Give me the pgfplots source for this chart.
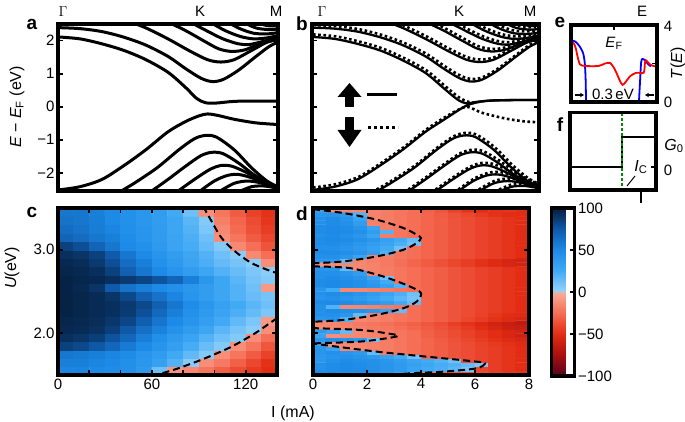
\documentclass[border=0pt]{standalone}
\usepackage{pgfplots}
\pgfplotsset{compat=1.18}
\usepackage{pgfplotstable}
\usepackage{fontspec}
\setmainfont{Liberation Sans}
\usetikzlibrary{arrows.meta}
\newcommand\tl{\fontsize{15}{17}\selectfont}
\newcommand\al{\fontsize{16}{18}\selectfont}
\newcommand\pl{\fontsize{19}{21}\selectfont\bfseries}
\pgfplotsset{
  colormap={heat}{rgb255(0pt)=(85,3,30); rgb255(25pt)=(170,15,15); rgb255(50pt)=(226,45,20); rgb255(75pt)=(245,110,85); rgb255(99pt)=(250,170,150); rgb255(101pt)=(150,210,250); rgb255(125pt)=(65,170,245); rgb255(150pt)=(28,138,230); rgb255(175pt)=(15,90,170); rgb255(200pt)=(5,28,58)},
  panel/.style={scale only axis, axis line style={line width=3.5pt}, tick style={black, line width=1.8pt}, major tick length=5pt, tick align=inside, axis on top, every tick label/.append style={font=\tl}},
  band/.style={black, line width=3pt, smooth, tension=0.5, no markers},
  bsol/.style={black, line width=2.3pt, smooth, tension=0.5, no markers},
  bdot/.style={black, line width=2.6pt, dash pattern=on 2.6pt off 2.6pt, smooth, tension=0.5, no markers, yshift=2.5pt, xshift=1pt},
}
% conduction bands
\pgfplotstableread[row sep=\\]{x y\\0 2.11\\0.1 2.05\\0.2 1.9\\0.3 1.7\\0.4 1.42\\0.5 1.04\\0.58 0.58\\0.63 0.25\\0.67 0.12\\0.72 0.11\\0.8 0.16\\0.9 0.17\\1 0.17\\}\cA
\pgfplotstableread[row sep=\\]{x y\\0 2.39\\0.1 2.36\\0.2 2.27\\0.3 2.1\\0.4 1.86\\0.5 1.52\\0.58 1.15\\0.65 0.86\\0.70 0.76\\0.75 0.82\\0.82 1.1\\0.9 1.52\\0.96 1.82\\1 1.95\\}\cB
\pgfplotstableread[row sep=\\]{x y\\0.33 2.56\\0.4 2.38\\0.5 2.05\\0.6 1.68\\0.68 1.42\\0.74 1.35\\0.8 1.42\\0.88 1.7\\0.95 1.95\\1 2.02\\}\cC
\pgfplotstableread[row sep=\\]{x y\\0.5 2.56\\0.58 2.3\\0.66 2.0\\0.73 1.75\\0.79 1.67\\0.85 1.72\\0.92 1.9\\1 2.05\\}\cD
\pgfplotstableread[row sep=\\]{x y\\0.6 2.56\\0.68 2.28\\0.75 2.05\\0.82 1.9\\0.87 1.88\\0.93 1.97\\1 2.1\\}\cE
\pgfplotstableread[row sep=\\]{x y\\0.69 2.56\\0.76 2.3\\0.83 2.12\\0.89 2.05\\0.95 2.08\\1 2.15\\}\cF
\pgfplotstableread[row sep=\\]{x y\\0.77 2.56\\0.83 2.35\\0.89 2.22\\0.95 2.2\\1 2.24\\}\cG
\pgfplotstableread[row sep=\\]{x y\\0.84 2.56\\0.9 2.38\\0.96 2.33\\1 2.35\\}\cH
\pgfplotstableread[row sep=\\]{x y\\0.9 2.56\\0.95 2.45\\1 2.45\\}\cI
% valence bands
\pgfplotstableread[row sep=\\]{x y\\0 -2.52\\0.1 -2.42\\0.2 -2.2\\0.3 -1.78\\0.4 -1.3\\0.5 -0.76\\0.58 -0.45\\0.64 -0.28\\0.68 -0.22\\0.73 -0.27\\0.8 -0.38\\0.9 -0.49\\1 -0.54\\}\vA
\pgfplotstableread[row sep=\\]{x y\\0.28 -2.58\\0.35 -2.3\\0.45 -1.85\\0.55 -1.3\\0.62 -0.97\\0.67 -0.87\\0.72 -0.92\\0.8 -1.3\\0.88 -1.85\\0.95 -2.25\\1 -2.42\\}\vB
\pgfplotstableread[row sep=\\]{x y\\0.42 -2.58\\0.5 -2.2\\0.58 -1.8\\0.65 -1.48\\0.7 -1.38\\0.75 -1.42\\0.82 -1.7\\0.9 -2.1\\1 -2.45\\}\vC
\pgfplotstableread[row sep=\\]{x y\\0.54 -2.58\\0.62 -2.2\\0.69 -1.9\\0.74 -1.78\\0.79 -1.8\\0.86 -2.0\\0.93 -2.25\\1 -2.45\\}\vD
\pgfplotstableread[row sep=\\]{x y\\0.64 -2.58\\0.71 -2.25\\0.77 -2.08\\0.82 -2.05\\0.88 -2.15\\0.95 -2.35\\1 -2.45\\}\vE
\pgfplotstableread[row sep=\\]{x y\\0.73 -2.58\\0.8 -2.32\\0.86 -2.25\\0.92 -2.3\\1 -2.45\\}\vF
\pgfplotstableread[row sep=\\]{x y\\0.82 -2.58\\0.88 -2.42\\0.94 -2.4\\1 -2.47\\}\vG
% panel b, bands near K
\pgfplotstableread[row sep=\\]{x y\\0 2.11\\0.1 2.05\\0.2 1.9\\0.3 1.7\\0.4 1.4\\0.5 1.02\\0.58 0.56\\0.64 0.22\\0.68 0.1\\0.73 0.15\\0.8 0.19\\0.9 0.2\\1 0.2\\}\bcA
\pgfplotstableread[row sep=\\]{x y\\0 -2.52\\0.1 -2.42\\0.2 -2.2\\0.3 -1.78\\0.4 -1.3\\0.5 -0.76\\0.58 -0.4\\0.64 -0.13\\0.68 0.03\\0.72 0.12\\0.78 0.18\\0.9 0.2\\1 0.2\\}\bvA
\pgfplotstableread[row sep=\\]{x y\\0 2.11\\0.1 2.05\\0.2 1.9\\0.3 1.7\\0.4 1.4\\0.5 1.02\\0.58 0.56\\0.64 0.22\\0.68 0.08\\0.71 0.04\\}\dcA
\pgfplotstableread[row sep=\\]{x y\\0 -2.52\\0.1 -2.42\\0.2 -2.2\\0.3 -1.78\\0.4 -1.3\\0.5 -0.76\\0.58 -0.4\\0.64 -0.17\\0.68 -0.08\\0.74 -0.25\\0.8 -0.36\\0.86 -0.45\\0.93 -0.52\\1 -0.55\\}\dvA
% panel e
\pgfplotstableread[row sep=\\]{x y\\-0.02 3.23\\0.05 3.14\\0.10 2.89\\0.14 2.55\\0.16 2.04\\0.17 1.18\\0.175 0\\}\eBa
\pgfplotstableread[row sep=\\]{x y\\0.79 0\\0.8 0.84\\0.815 2.04\\0.83 2.24\\0.86 2.17\\0.9 1.95\\0.93 1.85\\}\eBb
\pgfplotstableread[row sep=\\]{x y\\-0.02 3.14\\0.03 3.06\\0.055 2.8\\0.08 2.29\\0.105 1.95\\0.16 1.87\\0.32 1.87\\0.395 2.0\\0.455 2.03\\0.51 1.69\\0.57 1.09\\0.6 0.89\\0.63 1.01\\0.69 1.35\\0.76 1.52\\0.845 1.52\\0.86 2.04\\0.87 2.17\\0.92 1.95\\0.96 1.87\\1 1.83\\}\eR
\begin{document}
\begin{tikzpicture}
\useasboundingbox (0,0) rectangle (685pt,-422pt);
% ---------------- panel a
\begin{axis}[panel, at={(58pt,-24pt)}, anchor=north west, width=220pt, height=167pt,
  xmin=0, xmax=1, ymin=-2.55, ymax=2.5, xtick=\empty,
  ytick={-2,-1,0,1,2}, yticklabels={−2,−1,0,1,2}]
\addplot[band] table {\cA};
\addplot[band] table {\cB};
\addplot[band] table {\cC};
\addplot[band] table {\cD};
\addplot[band] table {\cE};
\addplot[band] table {\cF};
\addplot[band] table {\cG};
\addplot[band] table {\cH};
\addplot[band] table {\cI};
\addplot[band] table {\vA};
\addplot[band] table {\vB};
\addplot[band] table {\vC};
\addplot[band] table {\vD};
\addplot[band] table {\vE};
\addplot[band] table {\vF};
\addplot[band] table {\vG};
\end{axis}
% ---------------- panel b
\begin{axis}[panel, at={(312pt,-24pt)}, anchor=north west, width=227pt, height=167pt,
  xmin=0, xmax=1, ymin=-2.55, ymax=2.5, xtick=\empty,
  ytick={-2,-1,0,1,2}, yticklabels={}]
\addplot[bdot] table {\dcA};
\addplot[bdot] table {\cB};
\addplot[bdot] table {\cC};
\addplot[bdot] table {\cD};
\addplot[bdot] table {\cE};
\addplot[bdot] table {\cF};
\addplot[bdot] table {\cG};
\addplot[bdot] table {\cH};
\addplot[bdot] table {\cI};
\addplot[bdot] table {\dvA};
\addplot[bdot] table {\vB};
\addplot[bdot] table {\vC};
\addplot[bdot] table {\vD};
\addplot[bdot] table {\vE};
\addplot[bdot] table {\vF};
\addplot[bdot] table {\vG};
\addplot[bsol] table {\bcA};
\addplot[bsol] table {\cB};
\addplot[bsol] table {\cC};
\addplot[bsol] table {\cD};
\addplot[bsol] table {\cE};
\addplot[bsol] table {\cF};
\addplot[bsol] table {\cG};
\addplot[bsol] table {\cH};
\addplot[bsol] table {\cI};
\addplot[bsol] table {\bvA};
\addplot[bsol] table {\vB};
\addplot[bsol] table {\vC};
\addplot[bsol] table {\vD};
\addplot[bsol] table {\vE};
\addplot[bsol] table {\vF};
\addplot[bsol] table {\vG};
\end{axis}
% ---------------- panel e
\begin{axis}[panel, at={(571pt,-25pt)}, anchor=north west, width=86pt, height=77pt,
  xmin=0, xmax=1, ymin=0, ymax=4, xtick={0.5}, xtick pos=right, xticklabels={},
  ytick={2}, ytick pos=right, yticklabels={}]
\addplot[blue, line width=1.8pt, smooth, tension=0.4] table {\eBa};
\addplot[blue, line width=1.8pt, smooth, tension=0.4] table {\eBb};
\addplot[red, line width=1.8pt, smooth, tension=0.4] table {\eR};
\end{axis}
% ---------------- panel f
\begin{axis}[panel, at={(570pt,-112.5pt)}, anchor=north west, width=86pt, height=77.5pt,
  xmin=0, xmax=1, ymin=-0.77, ymax=1.83, xtick=\empty,
  ytick={0}, ytick pos=right, yticklabels={}]
\addplot[black, line width=2.2pt] coordinates {(0,0) (0.605,0) (0.605,1) (1,1)};
\addplot[green!55!black, line width=2pt, dash pattern=on 3pt off 2pt] coordinates {(0.605,-0.8) (0.605,1.9)};
\end{axis}
% ---------------- panel c
\begin{axis}[panel, at={(58pt,-208pt)}, anchor=north west, width=219pt, height=167pt,
  xmin=0, xmax=140, ymin=1.5, ymax=3.5, colormap name=heat,
  point meta min=-100, point meta max=100,
  xtick={0,20,40,60,80,100,120}, xticklabels={0,,,60,,,120},
  ytick={2,3}, yticklabels={2.0,3.0}]
\addplot[matrix plot*, mesh/cols=14, point meta=explicit] coordinates {
(5,1.55)[52] (15,1.55)[52] (25,1.55)[50] (35,1.55)[48] (45,1.55)[45] (55,1.55)[38] (65,1.55)[12] (75,1.55)[-10] (85,1.55)[-15] (95,1.55)[-22] (105,1.55)[-30] (115,1.55)[-38] (125,1.55)[-45] (135,1.55)[-50]
(5,1.65)[55] (15,1.65)[55] (25,1.65)[52] (35,1.65)[50] (45,1.65)[46] (55,1.65)[40] (65,1.65)[32] (75,1.65)[20] (85,1.65)[5] (95,1.65)[-12] (105,1.65)[-20] (115,1.65)[-30] (125,1.65)[-40] (135,1.65)[-48]
(5,1.75)[60] (15,1.75)[58] (25,1.75)[55] (35,1.75)[52] (45,1.75)[48] (55,1.75)[42] (65,1.75)[36] (75,1.75)[26] (85,1.75)[16] (95,1.75)[6] (105,1.75)[-12] (115,1.75)[-22] (125,1.75)[-32] (135,1.75)[-42]
(5,1.85)[85] (15,1.85)[82] (25,1.85)[76] (35,1.85)[68] (45,1.85)[58] (55,1.85)[50] (65,1.85)[42] (75,1.85)[34] (85,1.85)[24] (95,1.85)[14] (105,1.85)[6] (115,1.85)[-12] (125,1.85)[-22] (135,1.85)[-34]
(5,1.95)[92] (15,1.95)[90] (25,1.95)[86] (35,1.95)[78] (45,1.95)[68] (55,1.95)[56] (65,1.95)[46] (75,1.95)[38] (85,1.95)[30] (95,1.95)[20] (105,1.95)[12] (115,1.95)[6] (125,1.95)[-12] (135,1.95)[-25]
(5,2.05)[95] (15,2.05)[94] (25,2.05)[91] (35,2.05)[86] (45,2.05)[76] (55,2.05)[64] (65,2.05)[54] (75,2.05)[44] (85,2.05)[36] (95,2.05)[28] (105,2.05)[18] (115,2.05)[10] (125,2.05)[4] (135,2.05)[-12]
(5,2.15)[96] (15,2.15)[95] (25,2.15)[93] (35,2.15)[89] (45,2.15)[83] (55,2.15)[73] (65,2.15)[61] (75,2.15)[50] (85,2.15)[42] (95,2.15)[34] (105,2.15)[25] (115,2.15)[16] (125,2.15)[8] (135,2.15)[-8]
(5,2.25)[97] (15,2.25)[96] (25,2.25)[94] (35,2.25)[92] (45,2.25)[87] (55,2.25)[79] (65,2.25)[67] (75,2.25)[55] (85,2.25)[45] (95,2.25)[38] (105,2.25)[30] (115,2.25)[22] (125,2.25)[15] (135,2.25)[8]
(5,2.35)[97] (15,2.35)[96] (25,2.35)[94] (35,2.35)[92] (45,2.35)[88] (55,2.35)[82] (65,2.35)[72] (75,2.35)[60] (85,2.35)[48] (95,2.35)[40] (105,2.35)[32] (115,2.35)[25] (125,2.35)[18] (135,2.35)[12]
(5,2.45)[97] (15,2.45)[96] (25,2.45)[94] (35,2.45)[90] (45,2.45)[82] (55,2.45)[72] (65,2.45)[62] (75,2.45)[52] (85,2.45)[42] (95,2.45)[35] (105,2.45)[28] (115,2.45)[20] (125,2.45)[14] (135,2.45)[10]
(5,2.55)[97] (15,2.55)[95] (25,2.55)[90] (35,2.55)[75] (45,2.55)[62] (55,2.55)[55] (65,2.55)[50] (75,2.55)[45] (85,2.55)[40] (95,2.55)[35] (105,2.55)[28] (115,2.55)[20] (125,2.55)[12] (135,2.55)[-8]
(5,2.65)[97] (15,2.65)[96] (25,2.65)[95] (35,2.65)[92] (45,2.65)[88] (55,2.65)[84] (65,2.65)[78] (75,2.65)[70] (85,2.65)[55] (95,2.65)[40] (105,2.65)[28] (115,2.65)[18] (125,2.65)[10] (135,2.65)[6]
(5,2.75)[96] (15,2.75)[95] (25,2.75)[92] (35,2.75)[85] (45,2.75)[72] (55,2.75)[60] (65,2.75)[50] (75,2.75)[42] (85,2.75)[35] (95,2.75)[28] (105,2.75)[20] (115,2.75)[14] (125,2.75)[8] (135,2.75)[4]
(5,2.85)[95] (15,2.85)[93] (25,2.85)[88] (35,2.85)[80] (45,2.85)[65] (55,2.85)[55] (65,2.85)[45] (75,2.85)[38] (85,2.85)[30] (95,2.85)[22] (105,2.85)[15] (115,2.85)[10] (125,2.85)[4] (135,2.85)[-12]
(5,2.95)[92] (15,2.95)[90] (25,2.95)[85] (35,2.95)[75] (45,2.95)[60] (55,2.95)[50] (65,2.95)[42] (75,2.95)[35] (85,2.95)[28] (95,2.95)[20] (105,2.95)[12] (115,2.95)[5] (125,2.95)[-14] (135,2.95)[-25]
(5,3.05)[85] (15,3.05)[80] (25,3.05)[70] (35,3.05)[60] (45,3.05)[50] (55,3.05)[45] (65,3.05)[38] (75,3.05)[30] (85,3.05)[24] (95,3.05)[15] (105,3.05)[6] (115,3.05)[-14] (125,3.05)[-25] (135,3.05)[-35]
(5,3.15)[70] (15,3.15)[66] (25,3.15)[60] (35,3.15)[55] (45,3.15)[48] (55,3.15)[42] (65,3.15)[36] (75,3.15)[30] (85,3.15)[22] (95,3.15)[12] (105,3.15)[-12] (115,3.15)[-22] (125,3.15)[-32] (135,3.15)[-40]
(5,3.25)[65] (15,3.25)[62] (25,3.25)[57] (35,3.25)[52] (45,3.25)[46] (55,3.25)[42] (65,3.25)[36] (75,3.25)[28] (85,3.25)[20] (95,3.25)[8] (105,3.25)[-15] (115,3.25)[-26] (125,3.25)[-36] (135,3.25)[-44]
(5,3.35)[62] (15,3.35)[60] (25,3.35)[56] (35,3.35)[50] (45,3.35)[45] (55,3.35)[40] (65,3.35)[35] (75,3.35)[28] (85,3.35)[18] (95,3.35)[6] (105,3.35)[-18] (115,3.35)[-28] (125,3.35)[-38] (135,3.35)[-46]
(5,3.45)[60] (15,3.45)[60] (25,3.45)[55] (35,3.45)[50] (45,3.45)[45] (55,3.45)[40] (65,3.45)[35] (75,3.45)[25] (85,3.45)[12] (95,3.45)[-12] (105,3.45)[-22] (115,3.45)[-32] (125,3.45)[-42] (135,3.45)[-48]
};
\addplot[black, line width=2pt, dash pattern=on 7pt off 4pt, smooth] coordinates {(93,3.52) (94,3.48) (98.2,3.34) (104.6,3.14) (113.2,2.98) (123.8,2.84) (136.6,2.74) (141,2.72)};
\addplot[black, line width=2pt, dash pattern=on 7pt off 4pt, smooth] coordinates {(60,1.49) (66.3,1.52) (76.9,1.58) (94,1.70) (111,1.84) (126,2.0) (137.6,2.15) (141,2.19)};
\end{axis}
% ---------------- panel d
\begin{axis}[panel, at={(313pt,-208pt)}, anchor=north west, width=216pt, height=167pt,
  xmin=0, xmax=8, ymin=1.5, ymax=3.5, colormap name=heat,
  point meta min=-100, point meta max=100,
  xtick={0,2,4,6,8}, xticklabels={0,2,4,6,8},
  ytick={2,3}, yticklabels={},
  colorbar,
  colorbar style={at={(parent axis.north east)}, anchor=north west, xshift=14pt, width=23pt, height=168pt, scale only axis,
    ytick={-100,-50,0,50,100}, yticklabels={−100,−50,0,50,100}, ytick pos=right,
    axis line style={line width=3.5pt}, tick style={black, line width=1.8pt}, major tick length=5pt, tick align=inside,
    yticklabel style={font=\tl}}]
\addplot[matrix plot*, mesh/cols=16, point meta=explicit] coordinates {
(0.25,1.525)[48] (0.75,1.525)[50] (1.25,1.525)[48] (1.75,1.525)[46] (2.25,1.525)[44] (2.75,1.525)[40] (3.25,1.525)[30] (3.75,1.525)[15] (4.25,1.525)[-25] (4.75,1.525)[-28] (5.25,1.525)[-32] (5.75,1.525)[-35] (6.25,1.525)[-38] (6.75,1.525)[-41] (7.25,1.525)[-44] (7.75,1.525)[-47]
(0.25,1.575)[45] (0.75,1.575)[48] (1.25,1.575)[50] (1.75,1.575)[48] (2.25,1.575)[46] (2.75,1.575)[42] (3.25,1.575)[38] (3.75,1.575)[30] (4.25,1.575)[25] (4.75,1.575)[22] (5.25,1.575)[18] (5.75,1.575)[10] (6.25,1.575)[-40] (6.75,1.575)[-44] (7.25,1.575)[-47] (7.75,1.575)[-50]
(0.25,1.625)[45] (0.75,1.625)[48] (1.25,1.625)[50] (1.75,1.625)[48] (2.25,1.625)[45] (2.75,1.625)[42] (3.25,1.625)[38] (3.75,1.625)[32] (4.25,1.625)[28] (4.75,1.625)[24] (5.25,1.625)[20] (5.75,1.625)[15] (6.25,1.625)[8] (6.75,1.625)[-44] (7.25,1.625)[-47] (7.75,1.625)[-50]
(0.25,1.675)[40] (0.75,1.675)[45] (1.25,1.675)[48] (1.75,1.675)[46] (2.25,1.675)[44] (2.75,1.675)[40] (3.25,1.675)[35] (3.75,1.675)[30] (4.25,1.675)[25] (4.75,1.675)[20] (5.25,1.675)[12] (5.75,1.675)[-38] (6.25,1.675)[-41] (6.75,1.675)[-44] (7.25,1.675)[-47] (7.75,1.675)[-50]
(0.25,1.725)[40] (0.75,1.725)[42] (1.25,1.725)[45] (1.75,1.725)[42] (2.25,1.725)[38] (2.75,1.725)[32] (3.25,1.725)[25] (3.75,1.725)[12] (4.25,1.725)[-28] (4.75,1.725)[-31] (5.25,1.725)[-35] (5.75,1.725)[-38] (6.25,1.725)[-41] (6.75,1.725)[-44] (7.25,1.725)[-47] (7.75,1.725)[-50]
(0.25,1.775)[42] (0.75,1.775)[45] (1.25,1.775)[42] (1.75,1.775)[38] (2.25,1.775)[15] (2.75,1.775)[-19] (3.25,1.775)[-22] (3.75,1.775)[-25] (4.25,1.775)[-28] (4.75,1.775)[-31] (5.25,1.775)[-35] (5.75,1.775)[-38] (6.25,1.775)[-41] (6.75,1.775)[-44] (7.25,1.775)[-47] (7.75,1.775)[-50]
(0.25,1.825)[40] (0.75,1.825)[30] (1.25,1.825)[-14] (1.75,1.825)[-15] (2.25,1.825)[-17] (2.75,1.825)[-19] (3.25,1.825)[-22] (3.75,1.825)[-25] (4.25,1.825)[-28] (4.75,1.825)[-31] (5.25,1.825)[-35] (5.75,1.825)[-38] (6.25,1.825)[-41] (6.75,1.825)[-44] (7.25,1.825)[-47] (7.75,1.825)[-50]
(0.25,1.875)[25] (0.75,1.875)[-12] (1.25,1.875)[-14] (1.75,1.875)[-15] (2.25,1.875)[-17] (2.75,1.875)[-19] (3.25,1.875)[-22] (3.75,1.875)[-25] (4.25,1.875)[-28] (4.75,1.875)[-31] (5.25,1.875)[-35] (5.75,1.875)[-38] (6.25,1.875)[-42] (6.75,1.875)[-45] (7.25,1.875)[-48] (7.75,1.875)[-52]
(0.25,1.925)[40] (0.75,1.925)[45] (1.25,1.925)[42] (1.75,1.925)[38] (2.25,1.925)[12] (2.75,1.925)[-19] (3.25,1.925)[-22] (3.75,1.925)[-25] (4.25,1.925)[-28] (4.75,1.925)[-32] (5.25,1.925)[-36] (5.75,1.925)[-40] (6.25,1.925)[-44] (6.75,1.925)[-48] (7.25,1.925)[-52] (7.75,1.925)[-55]
(0.25,1.975)[30] (0.75,1.975)[-12] (1.25,1.975)[-14] (1.75,1.975)[-15] (2.25,1.975)[-17] (2.75,1.975)[-19] (3.25,1.975)[-22] (3.75,1.975)[-25] (4.25,1.975)[-30] (4.75,1.975)[-34] (5.25,1.975)[-38] (5.75,1.975)[-42] (6.25,1.975)[-46] (6.75,1.975)[-50] (7.25,1.975)[-55] (7.75,1.975)[-60]
(0.25,2.025)[38] (0.75,2.025)[30] (1.25,2.025)[15] (1.75,2.025)[-15] (2.25,2.025)[-17] (2.75,2.025)[-19] (3.25,2.025)[-22] (3.75,2.025)[-25] (4.25,2.025)[-30] (4.75,2.025)[-34] (5.25,2.025)[-38] (5.75,2.025)[-42] (6.25,2.025)[-46] (6.75,2.025)[-50] (7.25,2.025)[-55] (7.75,2.025)[-58]
(0.25,2.075)[-14] (0.75,2.075)[-15] (1.25,2.075)[-17] (1.75,2.075)[-18] (2.25,2.075)[-20] (2.75,2.075)[-22] (3.25,2.075)[-25] (3.75,2.075)[-28] (4.25,2.075)[-32] (4.75,2.075)[-36] (5.25,2.075)[-40] (5.75,2.075)[-45] (6.25,2.075)[-50] (6.75,2.075)[-55] (7.25,2.075)[-60] (7.75,2.075)[-62]
(0.25,2.125)[-15] (0.75,2.125)[-16] (1.25,2.125)[-18] (1.75,2.125)[-20] (2.25,2.125)[-22] (2.75,2.125)[-24] (3.25,2.125)[-27] (3.75,2.125)[-30] (4.25,2.125)[-34] (4.75,2.125)[-38] (5.25,2.125)[-43] (5.75,2.125)[-48] (6.25,2.125)[-53] (6.75,2.125)[-58] (7.25,2.125)[-62] (7.75,2.125)[-65]
(0.25,2.175)[40] (0.75,2.175)[42] (1.25,2.175)[20] (1.75,2.175)[-15] (2.25,2.175)[-17] (2.75,2.175)[-19] (3.25,2.175)[-22] (3.75,2.175)[-25] (4.25,2.175)[-28] (4.75,2.175)[-31] (5.25,2.175)[-35] (5.75,2.175)[-40] (6.25,2.175)[-44] (6.75,2.175)[-48] (7.25,2.175)[-52] (7.75,2.175)[-55]
(0.25,2.225)[45] (0.75,2.225)[45] (1.25,2.225)[40] (1.75,2.225)[15] (2.25,2.225)[-17] (2.75,2.225)[-19] (3.25,2.225)[-22] (3.75,2.225)[-25] (4.25,2.225)[-28] (4.75,2.225)[-31] (5.25,2.225)[-35] (5.75,2.225)[-38] (6.25,2.225)[-42] (6.75,2.225)[-46] (7.25,2.225)[-50] (7.75,2.225)[-52]
(0.25,2.275)[45] (0.75,2.275)[48] (1.25,2.275)[46] (1.75,2.275)[44] (2.25,2.275)[40] (2.75,2.275)[30] (3.25,2.275)[15] (3.75,2.275)[-25] (4.25,2.275)[-28] (4.75,2.275)[-31] (5.25,2.275)[-35] (5.75,2.275)[-38] (6.25,2.275)[-41] (6.75,2.275)[-44] (7.25,2.275)[-47] (7.75,2.275)[-50]
(0.25,2.325)[45] (0.75,2.325)[20] (1.25,2.325)[-14] (1.75,2.325)[-15] (2.25,2.325)[-17] (2.75,2.325)[-19] (3.25,2.325)[-22] (3.75,2.325)[-25] (4.25,2.325)[-28] (4.75,2.325)[-31] (5.25,2.325)[-35] (5.75,2.325)[-38] (6.25,2.325)[-41] (6.75,2.325)[-44] (7.25,2.325)[-47] (7.75,2.325)[-50]
(0.25,2.375)[48] (0.75,2.375)[50] (1.25,2.375)[48] (1.75,2.375)[45] (2.25,2.375)[40] (2.75,2.375)[35] (3.25,2.375)[25] (3.75,2.375)[15] (4.25,2.375)[-28] (4.75,2.375)[-31] (5.25,2.375)[-35] (5.75,2.375)[-38] (6.25,2.375)[-41] (6.75,2.375)[-44] (7.25,2.375)[-47] (7.75,2.375)[-50]
(0.25,2.425)[42] (0.75,2.425)[45] (1.25,2.425)[42] (1.75,2.425)[38] (2.25,2.425)[32] (2.75,2.425)[25] (3.25,2.425)[18] (3.75,2.425)[10] (4.25,2.425)[-28] (4.75,2.425)[-31] (5.25,2.425)[-35] (5.75,2.425)[-38] (6.25,2.425)[-41] (6.75,2.425)[-44] (7.25,2.425)[-47] (7.75,2.425)[-50]
(0.25,2.475)[45] (0.75,2.475)[48] (1.25,2.475)[46] (1.75,2.475)[42] (2.25,2.475)[36] (2.75,2.475)[30] (3.25,2.475)[22] (3.75,2.475)[12] (4.25,2.475)[-28] (4.75,2.475)[-31] (5.25,2.475)[-35] (5.75,2.475)[-38] (6.25,2.475)[-41] (6.75,2.475)[-44] (7.25,2.475)[-47] (7.75,2.475)[-50]
(0.25,2.525)[40] (0.75,2.525)[25] (1.25,2.525)[-14] (1.75,2.525)[-15] (2.25,2.525)[-17] (2.75,2.525)[-19] (3.25,2.525)[-22] (3.75,2.525)[-25] (4.25,2.525)[-28] (4.75,2.525)[-31] (5.25,2.525)[-35] (5.75,2.525)[-38] (6.25,2.525)[-41] (6.75,2.525)[-44] (7.25,2.525)[-47] (7.75,2.525)[-50]
(0.25,2.575)[48] (0.75,2.575)[50] (1.25,2.575)[48] (1.75,2.575)[45] (2.25,2.575)[40] (2.75,2.575)[32] (3.25,2.575)[20] (3.75,2.575)[-25] (4.25,2.575)[-28] (4.75,2.575)[-31] (5.25,2.575)[-35] (5.75,2.575)[-38] (6.25,2.575)[-41] (6.75,2.575)[-44] (7.25,2.575)[-47] (7.75,2.575)[-50]
(0.25,2.625)[48] (0.75,2.625)[50] (1.25,2.625)[48] (1.75,2.625)[45] (2.25,2.625)[38] (2.75,2.625)[25] (3.25,2.625)[-22] (3.75,2.625)[-25] (4.25,2.625)[-28] (4.75,2.625)[-31] (5.25,2.625)[-35] (5.75,2.625)[-38] (6.25,2.625)[-41] (6.75,2.625)[-44] (7.25,2.625)[-47] (7.75,2.625)[-50]
(0.25,2.675)[45] (0.75,2.675)[48] (1.25,2.675)[46] (1.75,2.675)[42] (2.25,2.675)[30] (2.75,2.675)[12] (3.25,2.675)[-22] (3.75,2.675)[-25] (4.25,2.675)[-28] (4.75,2.675)[-31] (5.25,2.675)[-35] (5.75,2.675)[-38] (6.25,2.675)[-41] (6.75,2.675)[-44] (7.25,2.675)[-47] (7.75,2.675)[-50]
(0.25,2.725)[45] (0.75,2.725)[45] (1.25,2.725)[42] (1.75,2.725)[35] (2.25,2.725)[-17] (2.75,2.725)[-19] (3.25,2.725)[-22] (3.75,2.725)[-25] (4.25,2.725)[-28] (4.75,2.725)[-31] (5.25,2.725)[-35] (5.75,2.725)[-38] (6.25,2.725)[-41] (6.75,2.725)[-44] (7.25,2.725)[-47] (7.75,2.725)[-50]
(0.25,2.775)[42] (0.75,2.775)[40] (1.25,2.775)[15] (1.75,2.775)[-15] (2.25,2.775)[-17] (2.75,2.775)[-19] (3.25,2.775)[-22] (3.75,2.775)[-25] (4.25,2.775)[-28] (4.75,2.775)[-31] (5.25,2.775)[-35] (5.75,2.775)[-38] (6.25,2.775)[-41] (6.75,2.775)[-44] (7.25,2.775)[-47] (7.75,2.775)[-50]
(0.25,2.825)[-12] (0.75,2.825)[-13] (1.25,2.825)[-14] (1.75,2.825)[-15] (2.25,2.825)[-17] (2.75,2.825)[-20] (3.25,2.825)[-24] (3.75,2.825)[-28] (4.25,2.825)[-32] (4.75,2.825)[-36] (5.25,2.825)[-40] (5.75,2.825)[-44] (6.25,2.825)[-48] (6.75,2.825)[-52] (7.25,2.825)[-55] (7.75,2.825)[-58]
(0.25,2.875)[40] (0.75,2.875)[38] (1.25,2.875)[15] (1.75,2.875)[-16] (2.25,2.875)[-18] (2.75,2.875)[-20] (3.25,2.875)[-24] (3.75,2.875)[-28] (4.25,2.875)[-32] (4.75,2.875)[-36] (5.25,2.875)[-40] (5.75,2.875)[-44] (6.25,2.875)[-48] (6.75,2.875)[-52] (7.25,2.875)[-56] (7.75,2.875)[-58]
(0.25,2.925)[45] (0.75,2.925)[45] (1.25,2.925)[40] (1.75,2.925)[30] (2.25,2.925)[-17] (2.75,2.925)[-19] (3.25,2.925)[-22] (3.75,2.925)[-25] (4.25,2.925)[-28] (4.75,2.925)[-31] (5.25,2.925)[-35] (5.75,2.925)[-38] (6.25,2.925)[-41] (6.75,2.925)[-44] (7.25,2.925)[-47] (7.75,2.925)[-50]
(0.25,2.975)[48] (0.75,2.975)[48] (1.25,2.975)[46] (1.75,2.975)[42] (2.25,2.975)[35] (2.75,2.975)[20] (3.25,2.975)[-22] (3.75,2.975)[-25] (4.25,2.975)[-28] (4.75,2.975)[-31] (5.25,2.975)[-35] (5.75,2.975)[-38] (6.25,2.975)[-41] (6.75,2.975)[-44] (7.25,2.975)[-47] (7.75,2.975)[-50]
(0.25,3.025)[45] (0.75,3.025)[45] (1.25,3.025)[42] (1.75,3.025)[38] (2.25,3.025)[32] (2.75,3.025)[25] (3.25,3.025)[12] (3.75,3.025)[-25] (4.25,3.025)[-28] (4.75,3.025)[-31] (5.25,3.025)[-35] (5.75,3.025)[-38] (6.25,3.025)[-41] (6.75,3.025)[-44] (7.25,3.025)[-47] (7.75,3.025)[-50]
(0.25,3.075)[48] (0.75,3.075)[48] (1.25,3.075)[45] (1.75,3.075)[40] (2.25,3.075)[35] (2.75,3.075)[30] (3.25,3.075)[22] (3.75,3.075)[12] (4.25,3.075)[-28] (4.75,3.075)[-31] (5.25,3.075)[-35] (5.75,3.075)[-38] (6.25,3.075)[-41] (6.75,3.075)[-44] (7.25,3.075)[-47] (7.75,3.075)[-50]
(0.25,3.125)[48] (0.75,3.125)[50] (1.25,3.125)[48] (1.75,3.125)[45] (2.25,3.125)[40] (2.75,3.125)[32] (3.25,3.125)[25] (3.75,3.125)[15] (4.25,3.125)[-28] (4.75,3.125)[-31] (5.25,3.125)[-35] (5.75,3.125)[-38] (6.25,3.125)[-41] (6.75,3.125)[-44] (7.25,3.125)[-47] (7.75,3.125)[-50]
(0.25,3.175)[45] (0.75,3.175)[48] (1.25,3.175)[45] (1.75,3.175)[40] (2.25,3.175)[30] (2.75,3.175)[-19] (3.25,3.175)[-22] (3.75,3.175)[-25] (4.25,3.175)[-28] (4.75,3.175)[-31] (5.25,3.175)[-35] (5.75,3.175)[-38] (6.25,3.175)[-41] (6.75,3.175)[-44] (7.25,3.175)[-47] (7.75,3.175)[-50]
(0.25,3.225)[48] (0.75,3.225)[50] (1.25,3.225)[48] (1.75,3.225)[45] (2.25,3.225)[35] (2.75,3.225)[20] (3.25,3.225)[-22] (3.75,3.225)[-25] (4.25,3.225)[-28] (4.75,3.225)[-31] (5.25,3.225)[-35] (5.75,3.225)[-38] (6.25,3.225)[-41] (6.75,3.225)[-44] (7.25,3.225)[-47] (7.75,3.225)[-50]
(0.25,3.275)[48] (0.75,3.275)[50] (1.25,3.275)[48] (1.75,3.275)[42] (2.25,3.275)[30] (2.75,3.275)[-19] (3.25,3.275)[-22] (3.75,3.275)[-25] (4.25,3.275)[-28] (4.75,3.275)[-31] (5.25,3.275)[-35] (5.75,3.275)[-38] (6.25,3.275)[-41] (6.75,3.275)[-44] (7.25,3.275)[-47] (7.75,3.275)[-50]
(0.25,3.325)[45] (0.75,3.325)[48] (1.25,3.325)[45] (1.75,3.325)[35] (2.25,3.325)[-17] (2.75,3.325)[-19] (3.25,3.325)[-22] (3.75,3.325)[-25] (4.25,3.325)[-28] (4.75,3.325)[-31] (5.25,3.325)[-35] (5.75,3.325)[-38] (6.25,3.325)[-41] (6.75,3.325)[-44] (7.25,3.325)[-47] (7.75,3.325)[-50]
(0.25,3.375)[45] (0.75,3.375)[48] (1.25,3.375)[42] (1.75,3.375)[30] (2.25,3.375)[-17] (2.75,3.375)[-19] (3.25,3.375)[-22] (3.75,3.375)[-25] (4.25,3.375)[-28] (4.75,3.375)[-31] (5.25,3.375)[-35] (5.75,3.375)[-38] (6.25,3.375)[-41] (6.75,3.375)[-44] (7.25,3.375)[-47] (7.75,3.375)[-50]
(0.25,3.425)[40] (0.75,3.425)[42] (1.25,3.425)[38] (1.75,3.425)[20] (2.25,3.425)[-17] (2.75,3.425)[-19] (3.25,3.425)[-22] (3.75,3.425)[-25] (4.25,3.425)[-28] (4.75,3.425)[-32] (5.25,3.425)[-36] (5.75,3.425)[-40] (6.25,3.425)[-45] (6.75,3.425)[-48] (7.25,3.425)[-50] (7.75,3.425)[-50]
(0.25,3.475)[30] (0.75,3.475)[-13] (1.25,3.475)[-14] (1.75,3.475)[-15] (2.25,3.475)[-17] (2.75,3.475)[-19] (3.25,3.475)[-22] (3.75,3.475)[-25] (4.25,3.475)[-30] (4.75,3.475)[-35] (5.25,3.475)[-42] (5.75,3.475)[-48] (6.25,3.475)[-50] (6.75,3.475)[-48] (7.25,3.475)[-47] (7.75,3.475)[-50]
};
\addplot[black, line width=2pt, dash pattern=on 7pt off 4pt, smooth] coordinates {(0,3.49) (0.14,3.48) (1.12,3.44) (2.36,3.36) (3.35,3.26) (3.84,3.18) (4.0,3.14) (3.84,3.08) (3.35,3.0) (2.36,2.92) (1.12,2.86) (0.14,2.84) (0,2.84)};
\addplot[black, line width=2pt, dash pattern=on 7pt off 4pt, smooth] coordinates {(0,2.80) (0.14,2.80) (1.37,2.78) (2.6,2.68) (3.59,2.56) (4.0,2.48) (3.84,2.38) (3.35,2.30) (2.36,2.22) (1.12,2.16) (0.14,2.14) (0,2.14)};
\addplot[black, line width=2pt, dash pattern=on 7pt off 4pt, smooth] coordinates {(0,2.06) (0.14,2.06) (1.74,2.04) (2.73,2.0) (3.16,1.97) (2.73,1.94) (1.74,1.90) (0.14,1.88) (0,1.88)};
\addplot[black, line width=2pt, dash pattern=on 7pt off 4pt, smooth] coordinates {(0,1.87) (0.14,1.87) (2.36,1.78) (4.83,1.70) (6.06,1.66) (6.37,1.64) (6.06,1.58) (4.83,1.54) (3.59,1.52) (2.98,1.5) (2.5,1.48)};
\end{axis}
% ---------------- text and annotations
\node[anchor=base] at (32pt,-30pt) {\pl a};
\node[anchor=base] at (302pt,-31pt) {\pl b};
\node[anchor=base] at (32pt,-218pt) {\pl c};
\node[anchor=base] at (302pt,-220pt) {\pl d};
\node[anchor=base] at (560pt,-28pt) {\pl e};
\node[anchor=base] at (560pt,-132pt) {\pl f};
\node[anchor=base] at (63pt,-17pt) {\tl$\Gamma$};
\node[anchor=base] at (200pt,-17pt) {\tl K};
\node[anchor=base] at (276pt,-17pt) {\tl M};
\node[anchor=base] at (322pt,-17pt) {\tl$\Gamma$};
\node[anchor=base] at (459pt,-17pt) {\tl K};
\node[anchor=base] at (530pt,-17pt) {\tl M};
\node[anchor=base] at (642pt,-17pt) {\tl E};
\node[rotate=90] at (17pt,-107pt) {\al\textit{E} − \textit{E}\textsubscript{F} (eV)};
\node[rotate=90] at (12pt,-268pt) {\al\textit{U}(eV)};
\node[anchor=base] at (293pt,-417pt) {\al I (mA)};
% legend of b
\draw[line width=9pt] (349.5pt,-107pt) -- (349.5pt,-96pt);
\fill (337.5pt,-97pt) -- (361.5pt,-97pt) -- (349.5pt,-83pt) -- cycle;
\draw[line width=9pt] (349.5pt,-117pt) -- (349.5pt,-131pt);
\fill (337.5pt,-130pt) -- (361.5pt,-130pt) -- (349.5pt,-147pt) -- cycle;
\draw[line width=3pt] (367pt,-95pt) -- (397pt,-95pt);
\draw[line width=3pt, dash pattern=on 3pt off 3pt] (368pt,-128pt) -- (398pt,-128pt);
% panel e texts
\node at (614pt,-43pt) {\tl\textit{E}\textsubscript{F}};
\node[anchor=base] at (613pt,-100pt) {\tl 0.3\,eV};
\draw[line width=1.2pt, -{Stealth[length=4pt,width=4.5pt]}] (575pt,-95pt) -- (584pt,-95pt);
\draw[line width=1.2pt, -{Stealth[length=4pt,width=4.5pt]}] (654pt,-95pt) -- (645pt,-95pt);
\node at (668pt,-26pt) {\tl 4};
\node at (668pt,-102pt) {\tl 0};
\node[rotate=90] at (678pt,-63pt) {\al\textit{T}(\textit{E})};
% panel f texts
\node at (674pt,-146pt) {\al\textit{G}\textsubscript{0}};
\node at (668pt,-170pt) {\tl 0};
\node at (641pt,-167pt) {\al\textit{I}\textsubscript{C}};
\draw[line width=1pt] (635pt,-176pt) -- (627pt,-186pt);
\draw[line width=1.8pt] (641pt,-191pt) -- (641pt,-203pt);
\end{tikzpicture}
\end{document}
